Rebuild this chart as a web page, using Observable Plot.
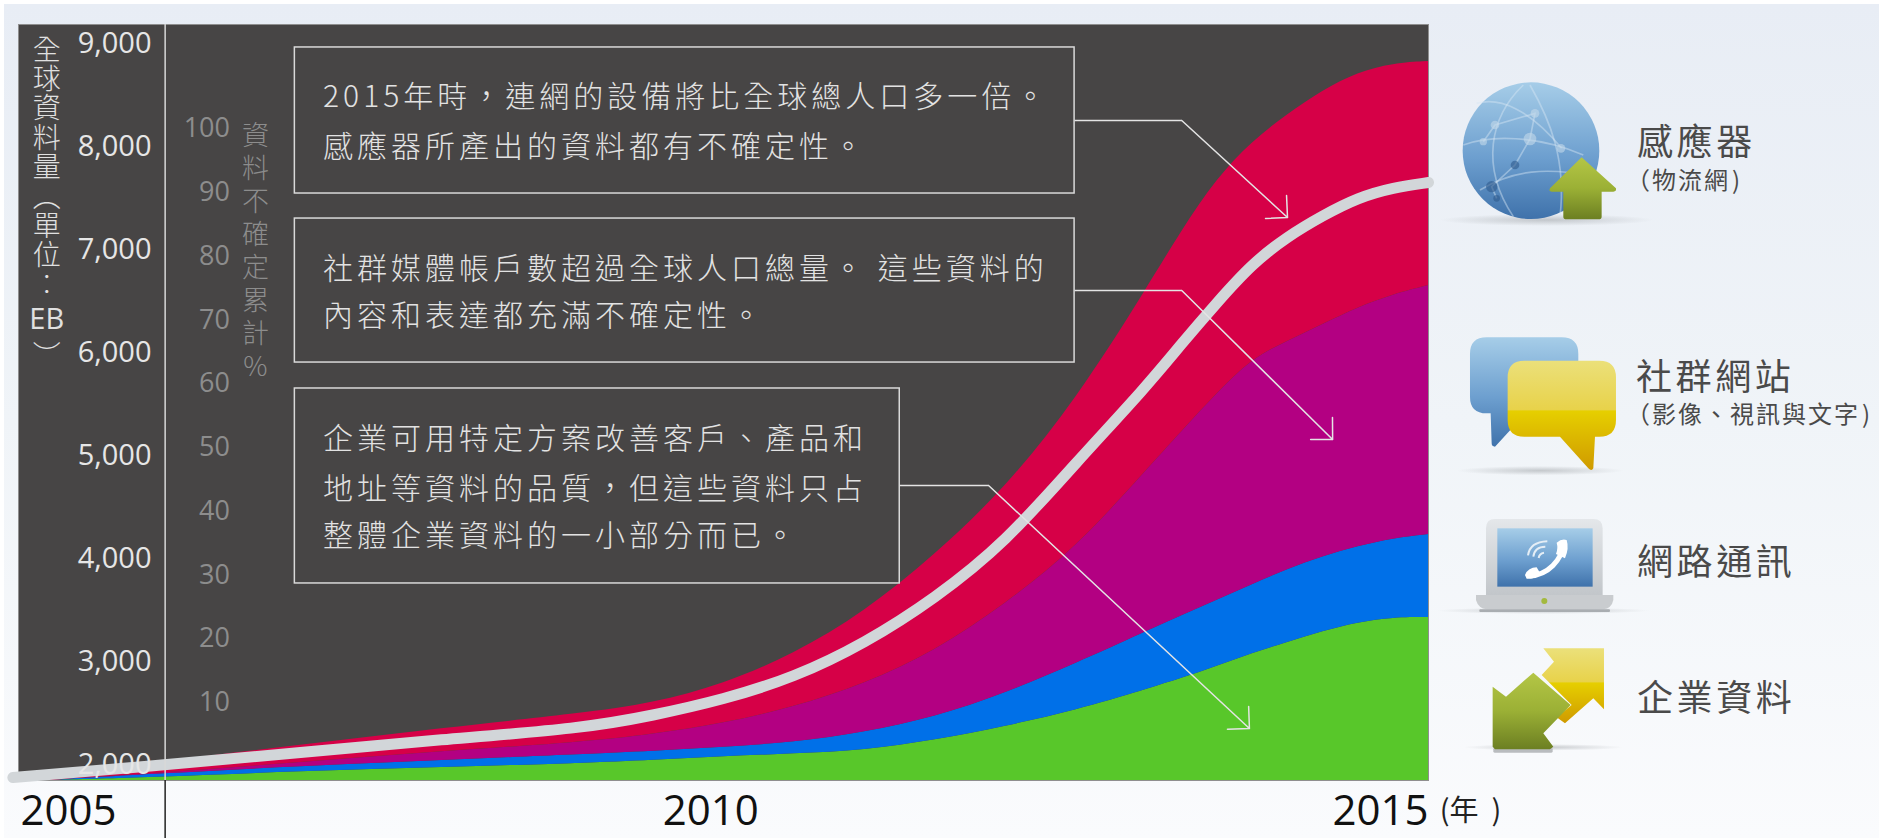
<!DOCTYPE html>
<html lang="zh-Hant">
<head>
<meta charset="utf-8">
<title>全球資料量</title>
<script src="https://cdn.jsdelivr.net/npm/d3@7"></script>
<script src="https://cdn.jsdelivr.net/npm/@observablehq/plot@0.6"></script>
<style>
html,body{margin:0;padding:0;background:#fff;width:1879px;height:838px;overflow:hidden}
#bg{position:absolute;left:4px;top:4px;right:0;bottom:0;background:linear-gradient(#e8edf5,#f0f4f8 50%,#fafbfd)}
#chart{position:absolute;left:0;top:0}
#chart svg{display:block}
#icons{position:absolute;left:0;top:0}
.lg{position:absolute;font-family:"Noto Sans CJK TC";color:#4a4a4a;white-space:nowrap;line-height:1;transform:translateY(-50%)}
.lg.big{font-size:36px;letter-spacing:3.6px}
.lg.small{font-size:24px;letter-spacing:2px}
.lg.small span{margin-left:2px}
</style>
</head>
<body>
<div id="bg"></div>
<div id="chart"></div>
<svg id="icons" width="1879" height="838" viewBox="0 0 1879 838" aria-hidden="true">
<defs>
<linearGradient id="gBlue" x1="0" y1="0" x2="0" y2="1"><stop offset="0" stop-color="#a6cde8"/><stop offset=".55" stop-color="#6d9fcf"/><stop offset="1" stop-color="#3f72ab"/></linearGradient>
<linearGradient id="gGreen" x1="0" y1="0" x2="0" y2="1"><stop offset="0" stop-color="#b4c646"/><stop offset=".5" stop-color="#9bb035"/><stop offset="1" stop-color="#6c7f22"/></linearGradient>
<linearGradient id="gYellow" x1="0" y1="0" x2="0" y2="1"><stop offset="0" stop-color="#ebe07a"/><stop offset=".45" stop-color="#e8d24a"/><stop offset=".46" stop-color="#e6cf00"/><stop offset="1" stop-color="#cf9a00"/></linearGradient>
<linearGradient id="gGrey" x1="0" y1="0" x2="0" y2="1"><stop offset="0" stop-color="#e4e7ea"/><stop offset="1" stop-color="#c2c6ca"/></linearGradient>
<radialGradient id="gShadow"><stop offset="0" stop-color="#a0a4a8" stop-opacity=".55"/><stop offset="1" stop-color="#a0a4a8" stop-opacity="0"/></radialGradient>
</defs>
<g transform="translate(1380,60) scale(.3333)">
<ellipse cx="500" cy="480" rx="320" ry="18" fill="url(#gShadow)"/>
<circle cx="453" cy="272" r="205" fill="url(#gBlue)"/>
<g fill="none" stroke="#d6e6f3" stroke-opacity=".45" stroke-width="5">
<path d="M250,255C330,225 470,225 610,285"/><path d="M430,75C330,170 300,320 400,470"/><path d="M450,75C510,180 560,300 540,470"/>
<path d="M290,130C360,110 450,150 545,265"/><path d="M300,390C400,330 500,320 640,350"/><path d="M310,245L345,195L465,160L450,237L405,315L335,380L350,415"/>
</g>
<g fill="#c3d8ea" fill-opacity=".6"><circle cx="450" cy="237" r="19"/><circle cx="345" cy="195" r="13"/><circle cx="465" cy="160" r="13"/><circle cx="310" cy="245" r="11"/><circle cx="543" cy="265" r="13"/></g>
<g fill="#2f5a8c" fill-opacity=".6"><circle cx="405" cy="315" r="13"/><circle cx="335" cy="380" r="17"/><circle cx="350" cy="415" r="10"/></g>
<path d="M605,292L708,385Q710,395 700,395L665,395L665,470Q665,478 655,478L560,478Q550,478 550,470L550,395L515,395Q505,395 510,385Z" fill="url(#gGreen)"/>
</g>
<g transform="translate(1380,60) scale(.3333)">
<ellipse cx="480" cy="1232" rx="250" ry="14" fill="url(#gShadow)"/>
<path d="M320,832L545,832Q595,832 595,882L595,1010Q595,1060 545,1060L400,1100L345,1160Q335,1160 335,1150L332,1060L320,1060Q270,1060 270,1010L270,882Q270,832 320,832Z" fill="url(#gBlue)"/>
<path d="M433,902L658,902Q708,902 708,952L708,1080Q708,1130 658,1130L645,1130L640,1225Q635,1235 625,1225L540,1130L433,1130Q383,1130 383,1080L383,952Q383,902 433,902Z" fill="url(#gYellow)"/>
</g>
<g transform="translate(1380,480) scale(.3333)">
<ellipse cx="490" cy="392" rx="320" ry="10" fill="url(#gShadow)"/>
<path d="M345,117L640,117Q668,117 668,145L668,345L318,345L318,145Q318,117 345,117Z" fill="url(#gGrey)"/>
<rect x="352" y="145" width="286" height="175" fill="url(#gBlue)"/>
<path d="M288,345L700,345L700,360Q695,385 670,388L320,388Q295,385 288,360Z" fill="#c9cccf"/>
<rect x="298" y="388" width="392" height="8" rx="3" fill="#a9adb1"/>
<circle cx="493" cy="363" r="9" fill="#a3b93e"/>
<path d="M448,288C505,285 545,240 550,192" fill="none" stroke="#fff" stroke-width="15"/>
<path d="M435,285Q445,262 470,262L482,282Q465,298 440,296Z M530,188Q545,175 560,180Q568,205 555,235L528,222Q535,205 530,188Z" fill="#fff"/>
<g fill="none" stroke="#e5eef6" stroke-width="6"><path d="M476,234Q478,220 492,218"/><path d="M460,230Q464,200 496,200"/><path d="M444,226Q450,186 502,184"/></g>
</g>
<g transform="translate(1380,480) scale(.3333)">
<ellipse cx="490" cy="802" rx="240" ry="10" fill="url(#gShadow)"/>
<rect x="340" y="804" width="178" height="14" rx="4" fill="#b9bcbf"/>
<path d="M490,505L672,505L672,688L640,655L555,730L530,712L575,675L485,585L522,545Z" fill="url(#gYellow)"/>
<path d="M338,620L378,650L460,578L572,675L490,760L520,800L510,808L345,808L338,800Z" fill="url(#gGreen)"/>
</g>
</svg>
<div class="lg big" style="left:1637px;top:139px">感應器</div>
<div class="lg small" style="left:1626px;top:179px">（物流網<span>)</span></div>
<div class="lg big" style="left:1636px;top:374px">社群網站</div>
<div class="lg small" style="left:1626px;top:413px">（影像、視訊與文字<span>)</span></div>
<div class="lg big" style="left:1637px;top:559px">網路通訊</div>
<div class="lg big" style="left:1637px;top:695px">企業資料</div>
<script>
// x positions, in years
const years = [2005.2,2006,2007,2008,2009,2009.5,2010,2010.5,2011,2011.5,2012,2012.5,2013,2013.25,2013.5,2013.75,2014,2014.25,2014.5,2014.75,2015];
// upper edge of each band, cumulative, in EB
const enterprise = [1835,1864,1922,1961,2000,2029,2068,2092,2126,2223,2359,2515,2718,2825,2942,3068,3175,3282,3369,3417,3417];
const voip       = [1835,1898,1971,2029,2087,2117,2155,2204,2301,2447,2680,2971,3282,3437,3583,3738,3884,4010,4107,4185,4223];
const social     = [1835,1903,2010,2117,2204,2282,2388,2544,2767,3087,3544,4087,4845,5223,5592,5932,6097,6262,6427,6553,6641];
const sensors    = [1835,2019,2175,2340,2485,2583,2767,3058,3466,4019,4670,5524,6602,7175,7680,8039,8301,8534,8709,8796,8816];
// uncertainty curve
const lineYears = [2004.96,2006,2007,2008,2009,2009.5,2010,2010.5,2011,2011.5,2012,2012.5,2013,2013.25,2013.5,2013.75,2014,2014.25,2014.5,2014.75,2015];
const uncertainty = [1864,1981,2107,2233,2340,2466,2621,2835,3165,3602,4146,4922,5660,6078,6476,6854,7117,7320,7495,7592,7641];
// axes
const yTicks = [2000,3000,4000,5000,6000,7000,8000,9000];
const pctTicks = [10,20,30,40,50,60,70,80,90,100];
const xLabels = ["2005","2010","2015"];
const xLabelPos = [2005.355,2009.91,2014.66];
// callouts
const calloutBoxes = [
  {x1:2006.96,x2:2012.49,y1:7534,y2:8952},
  {x1:2006.96,x2:2012.49,y1:5893,y2:7291},
  {x1:2006.96,x2:2011.25,y1:3748,y2:5641}
];
const calloutText = [
  {y:8470,t:"2015年時，連網的設備將比全球總人口多一倍。"},
  {y:7985,t:"感應器所產出的資料都有不確定性。"},
  {y:6795,t:"社群媒體帳戶數超過全球人口總量。 這些資料的"},
  {y:6340,t:"內容和表達都充滿不確定性。"},
  {y:5145,t:"企業可用特定方案改善客戶、產品和"},
  {y:4665,t:"地址等資料的品質，但這些資料只占"},
  {y:4205,t:"整體企業資料的一小部分而已。"}
];
const leaders = [
  {x0:2012.49,x1:2013.25,x2:2014.0,y1:8243,y2:7301},
  {x0:2012.49,x1:2013.25,x2:2014.32,y1:6592,y2:5146},
  {x0:2011.25,x1:2011.88,x2:2013.73,y1:4699,y2:2340}
];

const rows = years.map((year,i)=>({year,enterprise:enterprise[i],voip:voip[i],social:social[i],sensors:sensors[i]}));
const lineRows = lineYears.map((year,i)=>({year,v:uncertainty[i]}));
const base = 1835;
const pctToEB = p => 2602 + (p-10)*61.9;
const sans = '"Open Sans"';
const cjk = '"Noto Sans CJK TC"';
const band = (lo,hi,fill) => Plot.areaY(rows,{x:"year",y1:lo,y2:hi,fill,curve:"basis"});
const styled = css => (i,s,v,d,c,next) => {
  const g = next(i,s,v,d,c);
  const sel = d3.select(g).selectAll("text");
  for (const k in css) sel.style(k,css[k]);
  return g;
};
const vertical = (str,x,y,fontSize,spacing,fill) => Plot.text([str],{x:()=>x,y:()=>y,text:d=>d,textAnchor:"start",fontFamily:cjk,fontWeight:300,fontSize,fill,
  render:styled({"writing-mode":"vertical-rl","text-orientation":"upright","letter-spacing":spacing+"px"})});

const chart = Plot.plot({
  width:1879,height:838,marginLeft:18,marginRight:451,marginTop:24,marginBottom:58,
  style:{background:"transparent",overflow:"visible"},
  x:{domain:[2005,2015],axis:null},
  y:{domain:[1835,9175],axis:null},
  marks:[
    Plot.frame({fill:"#474545",stroke:"#8f8f8f",strokeWidth:1}),
    band(()=>base,"enterprise","#58c72a"),
    band("enterprise","voip","#0070e8"),
    band("voip","social","#b30082"),
    band("social","sensors","#d60047"),
    Plot.rectY(calloutBoxes,{x1:"x1",x2:"x2",y1:"y1",y2:"y2",fill:"none",stroke:"#d9d9d9",strokeWidth:1.5}),
    Plot.text(calloutText,{x:()=>2007.16,y:"y",text:"t",textAnchor:"start",fontFamily:cjk,fontWeight:300,fontSize:30,fill:"#e2e2e2",
      render:styled({"letter-spacing":"4px"})}),
    Plot.link(leaders,{x1:"x0",x2:"x1",y1:"y1",y2:"y1",stroke:"#e4e4e4",strokeWidth:1.5}),
    Plot.line(lineRows,{x:"year",y:"v",stroke:"#d2d6d9",strokeWidth:11,strokeLinecap:"round",curve:"basis"}),
    Plot.arrow(leaders,{x1:"x1",y1:"y1",x2:"x2",y2:"y2",stroke:"#e4e4e4",strokeWidth:1.5,bend:0,headAngle:90,headLength:22}),
    Plot.ruleX([2006.04],{y1:1835,y2:9175,stroke:"#d8d8d8",strokeWidth:1.5}),
    Plot.ruleX([2006.04],{y1:1272,y2:1835,stroke:"#222",strokeWidth:1.5}),
    Plot.axisY(yTicks,{anchor:"left",label:null,tickSize:0,tickPadding:0,dx:133,dy:1,fontFamily:sans,fontSize:29,fill:"#e6e6e6",tickFormat:d3.format(",")}),
    Plot.text(pctTicks,{x:()=>2006.5,y:pctToEB,dy:1,text:d=>String(d),textAnchor:"end",fontFamily:sans,fontSize:27,fill:"#8d8d8d"}),
    vertical("全球資料量︵單位︰",2005.2,9160,28,1.4,"#e0e0e0"),
    Plot.text(["EB"],{x:()=>2005.2,y:()=>6311,text:d=>d,fontFamily:sans,fontSize:29,fill:"#e0e0e0"}),
    vertical("︶",2005.2,6190,28,0,"#e0e0e0"),
    vertical("資料不確定累計%",2006.68,8320,27,6,"#8d8d8d"),
    Plot.text(xLabels,{x:(d,i)=>xLabelPos[i],y:()=>1534,text:d=>d,fontFamily:sans,fontSize:42,fill:"#111"}),
    Plot.text(["(年  )"],{x:()=>2015.08,y:()=>1534,text:d=>d,textAnchor:"start",fontFamily:cjk,fontSize:29,fill:"#222"})
  ]
});
document.getElementById("chart").append(chart);
</script>
</body>
</html>
